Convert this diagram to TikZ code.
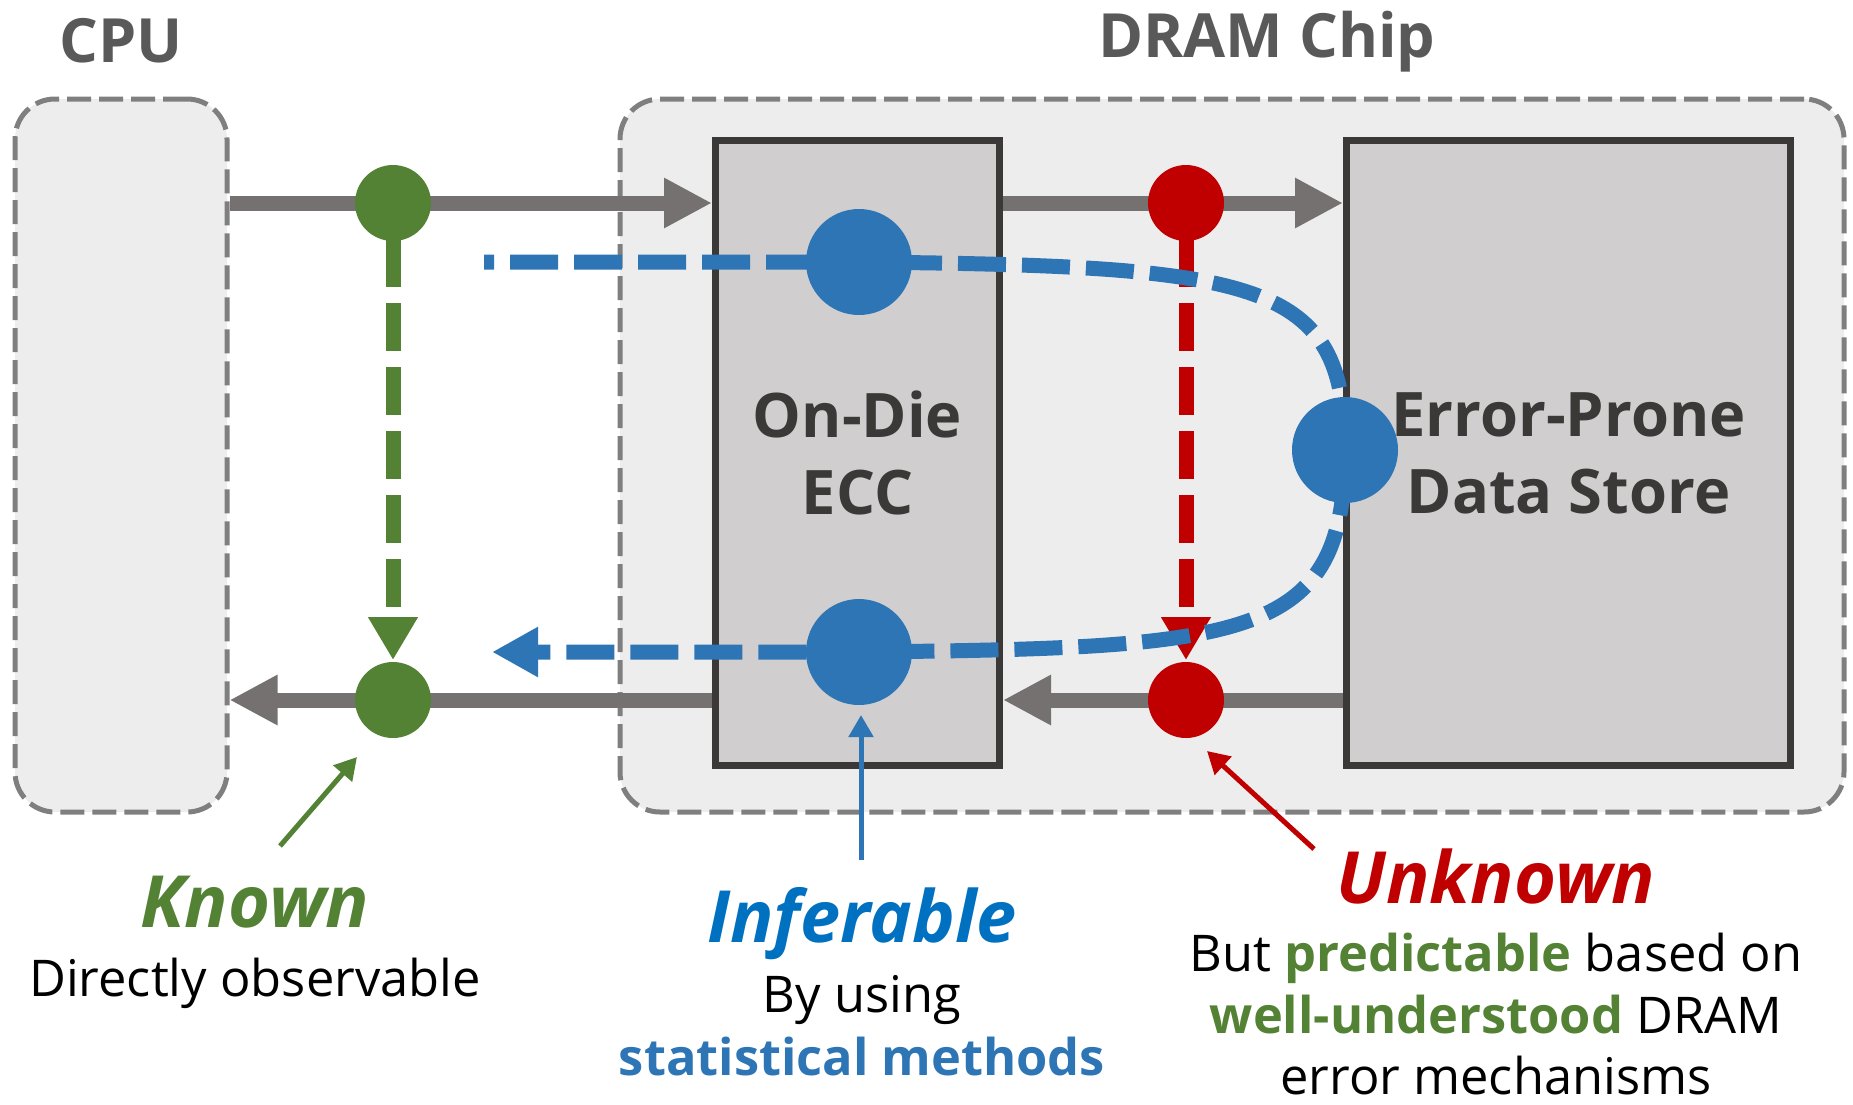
\documentclass[tikz,border=0pt]{standalone}
\usepackage{fontspec}
\setmainfont{Open Sans}
\usepackage{xcolor}
\usetikzlibrary{arrows.meta, calc}

\definecolor{busgray}{HTML}{767171}
\definecolor{edgegray}{HTML}{7F7F7F}
\definecolor{chipfill}{HTML}{EDEDED}
\definecolor{unitfill}{HTML}{D0CECE}
\definecolor{unitline}{HTML}{3B3838}
\definecolor{titlegray}{HTML}{595959}
\definecolor{kgreen}{HTML}{548235}
\definecolor{ured}{HTML}{C00000}
\definecolor{iblue}{HTML}{2E75B6}
\definecolor{ibright}{HTML}{0070C0}

\tikzset{
  region/.style={draw=edgegray, fill=chipfill, line width=2.5pt, dash pattern=on 12pt off 4pt, rounded corners=20pt, inner sep=0pt},
  unit/.style={draw=unitline, fill=unitfill, line width=3.5pt, inner sep=0pt, text=unitline, align=center, font=\fontsize{30.7}{38.5}\selectfont\bfseries},
  title/.style={anchor=base, text=titlegray, font=\fontsize{30.5}{38}\selectfont\bfseries},
  bus/.style={busgray, line width=7.5pt, -{Triangle[length=24pt,width=23.5pt]}},
  probe/.style={line width=7.5pt, dash pattern=on 24pt off 8pt, dash phase=14pt, -{Triangle[length=21.5pt,width=23.5pt]}},
  dot/.style={circle, inner sep=0pt, minimum size=38pt},
  bigdot/.style={circle, inner sep=0pt, minimum size=53pt, fill=iblue},
  note/.style={line width=2.5pt, -{Triangle[length=11pt,width=12pt]}},
  heading/.style={anchor=base, font=\fontsize{36}{40}\selectfont\bfseries\itshape},
  caption/.style={anchor=base, font=\fontsize{25.3}{31}\selectfont},
}

\begin{document}
\begin{tikzpicture}[x=0.5pt, y=-0.5pt]
  \useasboundingbox (0,0) rectangle (1853,1104);

  % containers
  \node[region, minimum width=106pt, minimum height=356.5pt] (cpu) at (121,455.5) {};
  \node[region, minimum width=612pt, minimum height=356.5pt] (dram) at (1232,455.5) {};
  \node[title] (cputitle) at (121,62) {CPU};
  \node[title] (dramtitle) at (1267,57) {DRAM Chip};

  % units inside the chip
  \node[unit, minimum width=142pt, minimum height=312.5pt] (ecc) at (857.5,453) {On-Die\\ECC};
  \node[unit, minimum width=222pt, minimum height=312.5pt] (store) at (1568.5,453) {Error-Prone\\Data Store};

  % observation points
  \coordinate (kin) at (393,203);
  \coordinate (kout) at (393,700);
  \coordinate (uin) at (1186,203);
  \coordinate (uout) at (1186,700);
  \coordinate (iin) at (859,262);
  \coordinate (istore) at (1345,450);
  \coordinate (iout) at (859,652);
  \coordinate (ifrom) at (484,262);
  \coordinate (ito) at (492,652);

  % data path
  \draw[bus] (cpu.east |- kin) -- (ecc.west |- kin);
  \draw[bus] (ecc.east |- uin) -- (store.west |- uin);
  \draw[bus] (store.west |- uout) -- (ecc.east |- uout);
  \draw[bus] (ecc.west |- kout) -- (cpu.east |- kout);

  \draw[probe, kgreen] (kin) -- ($(kout)+(0,-40)$);
  \draw[probe, ured] (uin) -- ($(uout)+(0,-40)$);
  \draw[iblue, line width=7.5pt, dash pattern=on 24pt off 8pt, dash phase=19pt, -{Triangle[length=23pt,width=23.5pt]}]
    (ifrom) -- (iin) .. controls (1260,266) and (1345,280) .. (istore)
    .. controls (1345,640) and (1250,648) .. (iout) -- (ito);

  \node[dot, fill=kgreen] (kindot) at (kin) {};
  \node[dot, fill=kgreen] (koutdot) at (kout) {};
  \node[dot, fill=ured] (uindot) at (uin) {};
  \node[dot, fill=ured] (uoutdot) at (uout) {};
  \node[bigdot] (iindot) at (iin) {};
  \node[bigdot] (istoredot) at (istore) {};
  \node[bigdot] (ioutdot) at (iout) {};

  % labels
  \node[heading, text=kgreen] (known) at (255,927) {Known};
  \node[caption] (knowntext) at (255,996) {Directly observable};
  \node[heading, text=ibright] (infer) at (862,942) {Inferable};
  \node[caption] (infertext) at (862,1012) {By using};
  \node[caption, text=iblue, font=\fontsize{25.3}{31}\selectfont\bfseries] (infermeth) at (862,1075) {statistical methods};
  \node[heading, text=ured] (unknown) at (1496,903) {Unknown};
  \node[caption] (unknowntext) at (1496,971) {But \textbf{\color{kgreen}predictable} based on};
  \node[caption] (unknowntextb) at (1496,1033) {\textbf{\color{kgreen}well-understood} DRAM};
  \node[caption] (unknowntextc) at (1496,1094) {error mechanisms};

  \coordinate (kfoot) at (280,846);
  \coordinate (ktip) at (357,757);
  \coordinate (ifoot) at (861,860);
  \coordinate (itip) at (861,715);
  \coordinate (ufoot) at (1314,849);
  \coordinate (utip) at (1207,751);
  \draw[note, kgreen] (kfoot) -- (ktip);
  \draw[note, iblue] (ifoot) -- (itip);
  \draw[note, ured] (ufoot) -- (utip);
\end{tikzpicture}
\end{document}
